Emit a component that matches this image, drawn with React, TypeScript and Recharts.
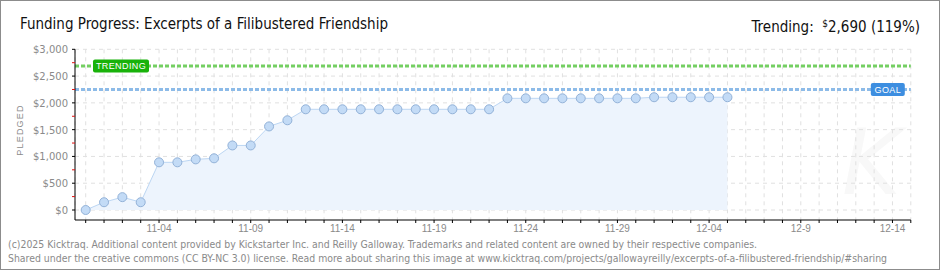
import React from "react";
import {
  ComposedChart,
  Area,
  XAxis,
  YAxis,
  CartesianGrid,
  ReferenceLine,
} from "recharts";

// daily pledged totals, 10-31 .. 12-05
const dates = [
  "10-31", "11-01", "11-02", "11-03", "11-04", "11-05", "11-06", "11-07",
  "11-08", "11-09", "11-10", "11-11", "11-12", "11-13", "11-14", "11-15",
  "11-16", "11-17", "11-18", "11-19", "11-20", "11-21", "11-22", "11-23",
  "11-24", "11-25", "11-26", "11-27", "11-28", "11-29", "11-30", "12-01",
  "12-02", "12-03", "12-04", "12-05",
];
const pledged = [
  0, 145, 240, 145, 890, 890, 945, 965, 1205, 1205, 1560, 1675, 1880, 1880,
  1880, 1880, 1880, 1880, 1880, 1880, 1880, 1880, 1880, 2085, 2085, 2085,
  2085, 2085, 2085, 2085, 2085, 2105, 2105, 2105, 2105, 2105,
];

// one entry per day of the campaign window (10-31 .. 12-15)
const tickLabels = [
  "", "", "", "", "11-04", "", "", "", "", "11-09", "", "", "", "", "11-14",
  "", "", "", "", "11-19", "", "", "", "", "11-24", "", "", "", "", "11-29",
  "", "", "", "", "12-04", "", "", "", "", "12-9", "", "", "", "", "12-14", "",
];

const yTicks = [0, 250, 500, 750, 1000, 1250, 1500, 1750, 2000, 2250, 2500, 2750, 3000];
const yGrid = [0, 500, 1000, 1500, 2000, 2500, 3000];

const goal = 2250;
const trending = 2690;

const data = dates.map((d, i) => ({ day: i, date: d, pledged: pledged[i] }));
const xTicks = tickLabels.map((_, i) => i);

const gray = "#8a8a8a";

function YTick(props: any) {
  const { x, y, payload } = props;
  const axisX = x + 7;
  const v = payload.value;
  if (v % 500 !== 0) {
    return <line x1={axisX - 3} x2={axisX} y1={y} y2={y} stroke="#e01010" />;
  }
  return (
    <g>
      <line x1={axisX - 3} x2={axisX} y1={y} y2={y} stroke="#000" />
      <text
        x={x}
        y={y}
        dy={4}
        textAnchor="end"
        fontSize={10}
        fill={gray}
        fontFamily="DejaVu Sans"
      >
        ${v.toLocaleString("en-US")}
      </text>
    </g>
  );
}

function trendLabel(props: any) {
  const { viewBox } = props;
  const x = viewBox.x + 18;
  const y = viewBox.y;
  return (
    <g>
      <rect x={x} y={y - 6.5} width={56} height={13} rx={2} fill="#19b20a" />
      <text
        x={x + 28}
        y={y}
        dy={3.5}
        textAnchor="middle"
        fill="#fff"
        fontSize={9}
        letterSpacing={0.4}
        fontFamily="Liberation Sans"
      >
        TRENDING
      </text>
    </g>
  );
}

function goalLabel(props: any) {
  const { viewBox } = props;
  const x = viewBox.x + viewBox.width - 40;
  const y = viewBox.y;
  return (
    <g>
      <rect x={x} y={y - 6.5} width={34} height={13} rx={2} fill="#3d8ee0" />
      <text
        x={x + 17}
        y={y}
        dy={3.5}
        textAnchor="middle"
        fill="#fff"
        fontSize={9}
        letterSpacing={0.4}
        fontFamily="Liberation Sans"
      >
        GOAL
      </text>
    </g>
  );
}

function Dot(props: any) {
  const { cx, cy } = props;
  if (cx == null || cy == null) return null;
  return <circle cx={cx} cy={cy} r={4.5} fill="#c3dbf6" stroke="#93b2d8" strokeWidth={1} />;
}

const narrow = "'DejaVu Sans Condensed', sans-serif";

export default function App() {
  return (
    <div style={{ position: "relative", width: 940, height: 270, background: "#fff", overflow: "hidden" }}>
      <style>{"body{margin:0}"}</style>
      <div
        style={{
          position: "absolute",
          left: 842,
          top: 118,
          fontSize: 90,
          fontStyle: "italic",
          fontWeight: 200,
          fontFamily: "DejaVu Sans",
          color: "#f8f8f8",
          lineHeight: "90px",
        }}
      >
        K
      </div>
      <div style={{ position: "absolute", left: 0, top: 0 }}>
        <ComposedChart
          width={940}
          height={270}
          data={data}
          margin={{ top: 49.3, right: 29.2, bottom: 30, left: 0 }}
        >
          <CartesianGrid
            stroke="#e0e0e0"
            strokeDasharray="4 4"
            horizontalValues={yGrid}
          />
          <XAxis
            dataKey="day"
            type="number"
            domain={[0, 45]}
            ticks={xTicks}
            interval={0}
            padding={{ left: 10.7, right: 0 }}
            tickFormatter={(v: number) => tickLabels[v]}
            tickSize={3}
            tickLine={{ stroke: "#000" }}
            axisLine={{ stroke: "#000" }}
            height={20}
            tick={{ fontSize: 10, fill: gray, fontFamily: "Liberation Sans" }}
          />
          <YAxis
            type="number"
            domain={[0, 3000]}
            ticks={yTicks}
            interval={0}
            width={75}
            padding={{ top: 0, bottom: 10 }}
            tickSize={3}
            tickMargin={4}
            tickLine={false}
            axisLine={{ stroke: "#000" }}
            tick={<YTick />}
          />
          <Area
            type="linear"
            dataKey="pledged"
            stroke="#bcd6f3"
            strokeWidth={1}
            fill="#edf4fd"
            fillOpacity={1}
            dot={<Dot />}
            activeDot={false}
            isAnimationActive={false}
          />
          <ReferenceLine
            y={trending}
            stroke="#74cf62"
            strokeWidth={3}
            strokeDasharray="4 2"
            label={trendLabel}
          />
          <ReferenceLine
            y={goal}
            stroke="#8dbbe8"
            strokeWidth={3}
            strokeDasharray="4 2"
            label={goalLabel}
          />
        </ComposedChart>
      </div>
      <div
        style={{
          position: "absolute",
          left: 20,
          top: 16,
          fontSize: 15,
          lineHeight: "16px",
          fontFamily: narrow,
          color: "#111",
          whiteSpace: "nowrap",
        }}
      >
        Funding Progress: Excerpts of a Filibustered Friendship
      </div>
      <div
        style={{
          position: "absolute",
          right: 20,
          top: 16,
          fontSize: 15,
          lineHeight: "16px",
          fontFamily: narrow,
          color: "#111",
          whiteSpace: "nowrap",
        }}
      >
        Trending:&nbsp; <span style={{ fontSize: 10, verticalAlign: "5px" }}>$</span>2,690 (119%)
      </div>
      <div
        style={{
          position: "absolute",
          left: 20,
          top: 130,
          transform: "translate(-50%, -50%) rotate(-90deg)",
          fontSize: 9,
          letterSpacing: 1.2,
          fontFamily: "Liberation Sans",
          color: gray,
          whiteSpace: "nowrap",
        }}
      >
        PLEDGED
      </div>
      <div
        style={{
          position: "absolute",
          left: 8,
          top: 237,
          fontSize: 10.4,
          lineHeight: "14px",
          fontFamily: narrow,
          color: gray,
          whiteSpace: "nowrap",
        }}
      >
        (c)2025 Kicktraq. Additional content provided by Kickstarter Inc. and Reilly Galloway. Trademarks and related content are owned by their respective companies.
        <br />
        Shared under the creative commons (CC BY-NC 3.0) license. Read more about sharing this image at www.kicktraq.com/projects/gallowayreilly/excerpts-of-a-filibustered-friendship/#sharing
      </div>
      <div
        style={{
          position: "absolute",
          left: 0,
          top: 0,
          width: 940,
          height: 270,
          boxSizing: "border-box",
          border: "1px solid #8c8c8c",
          pointerEvents: "none",
        }}
      />
    </div>
  );
}
